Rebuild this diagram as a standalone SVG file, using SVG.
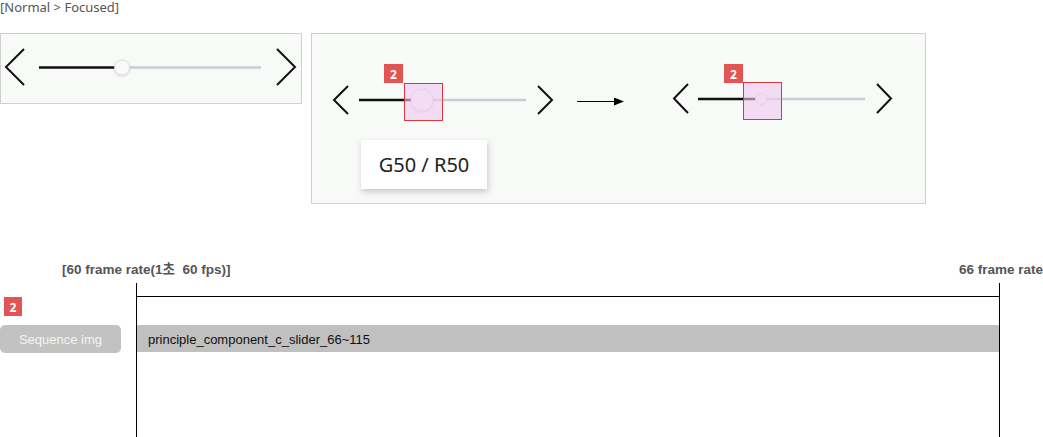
<svg xmlns="http://www.w3.org/2000/svg" width="1043" height="437" viewBox="0 0 1043 437">
<defs>
<style>
.panel{fill:#f7faf7;stroke:#cfcfcf;stroke-width:1}
.chev{fill:none;stroke:#111;stroke-width:2}
.trk-on{stroke:#111;stroke-width:2.5}
.trk-off{stroke:#c8ced6;stroke-width:2.5}
.thumb{fill:#fafafa;stroke:#dcdcdc;stroke-width:1}
.focus{fill:#f0c8f0;fill-opacity:0.6;stroke:#d9363e;stroke-width:1}
.badge{fill:#e35555}
.btxt{font-family:"Noto Sans","Liberation Sans",sans-serif;font-size:12px;fill:#fff;text-anchor:middle;font-weight:bold}
.lbl{font-family:"Liberation Sans","Noto Sans CJK KR",sans-serif;font-size:13.5px;font-weight:bold;fill:#555}
.line{stroke:#000;stroke-width:1;fill:none}
</style>
<filter id="sh" x="-20%" y="-20%" width="150%" height="160%">
<feDropShadow dx="1" dy="3" stdDeviation="3" flood-color="#000" flood-opacity="0.2"/>
</filter>
<filter id="tsh" x="-50%" y="-50%" width="200%" height="200%">
<feDropShadow dx="0" dy="1" stdDeviation="1" flood-color="#000" flood-opacity="0.15"/>
</filter>
<marker id="ah" markerWidth="10" markerHeight="8" refX="9" refY="4" orient="auto" markerUnits="userSpaceOnUse">
<path d="M0,0 L10,4 L0,8 Z" fill="#000"/>
</marker>
</defs>
<rect width="1043" height="437" fill="#fff"/>

<g id="title">
<text x="0" y="12" font-family="Noto Sans, Liberation Sans, sans-serif" font-size="13" fill="#555">[Normal &gt; Focused]</text>
</g>

<g id="normal-panel">
<rect class="panel" x="0.5" y="33.5" width="301" height="70"/>
<polyline class="chev" points="24,49 6,67 24,85"/>
<polyline class="chev" points="277,49 295,67 277,85"/>
<line class="trk-on" x1="39" y1="67.5" x2="118" y2="67.5"/>
<line class="trk-off" x1="126" y1="67.5" x2="261" y2="67.5"/>
<circle class="thumb" cx="122" cy="67.5" r="7.5" filter="url(#tsh)"/>
</g>

<g id="focused-panel">
<rect class="panel" x="311.5" y="33.5" width="614" height="170"/>
</g>

<g id="slider-a">
<polyline class="chev" points="348,86 334,100 348,114"/>
<polyline class="chev" points="538,86 552,100 538,114"/>
<line class="trk-on" x1="359" y1="100" x2="412" y2="100"/>
<line class="trk-off" x1="432" y1="100" x2="526" y2="100"/>
<circle class="thumb" cx="422" cy="100" r="11" filter="url(#tsh)"/>
<rect class="focus" x="404.5" y="83.5" width="38" height="37"/>
<rect class="badge" x="384" y="64" width="19" height="19"/>
<text class="btxt" x="393.5" y="78.5">2</text>
</g>

<g id="tooltip">
<rect x="361" y="140" width="126" height="49" fill="#fff" filter="url(#sh)"/>
<text x="424" y="172" font-family="Noto Sans, Liberation Sans, sans-serif" font-size="20" fill="#222" text-anchor="middle">G50 / R50</text>
</g>

<g id="slider-b">
<polyline class="chev" points="688,84 674,98.5 688,113"/>
<polyline class="chev" points="877,84 891,98.5 877,113"/>
<line class="trk-on" x1="698" y1="99" x2="756" y2="99"/>
<line class="trk-off" x1="766" y1="99" x2="865" y2="99"/>
<circle class="thumb" cx="761" cy="99" r="5.5"/>
<rect class="focus" x="743.5" y="82.5" width="38" height="37"/>
<rect class="badge" x="724" y="64" width="19" height="19"/>
<text class="btxt" x="733.5" y="78.5">2</text>
</g>

<g id="connectors">
<line class="line" x1="577" y1="101.5" x2="623" y2="101.5" marker-end="url(#ah)"/>
<line class="line" x1="136.5" y1="283" x2="136.5" y2="437"/>
<line class="line" x1="999.5" y1="283" x2="999.5" y2="437"/>
<line class="line" x1="136" y1="296.5" x2="1000" y2="296.5"/>
</g>

<g id="timeline-labels">
<text class="lbl" x="62" y="274">[60 frame rate(1초&#160; 60 fps)]</text>
<text class="lbl" x="1043" y="274" text-anchor="end">66 frame rate</text>
</g>

<g id="seq-badge">
<rect class="badge" x="4" y="297" width="18" height="19"/>
<text class="btxt" x="13" y="311.5">2</text>
</g>

<g id="seq-button">
<rect x="0" y="325" width="121" height="28" rx="5" fill="#c2c2c2"/>
<text x="60.5" y="344" font-family="Liberation Sans, sans-serif" font-size="13" fill="#f4f4f4" text-anchor="middle">Sequence img</text>
</g>

<g id="seq-bar">
<rect x="137" y="325" width="862" height="27" fill="#c0c0c0"/>
<text x="148" y="343.5" font-family="Liberation Sans, sans-serif" font-size="13" fill="#111">principle_component_c_slider_66~115</text>
</g>
</svg>
